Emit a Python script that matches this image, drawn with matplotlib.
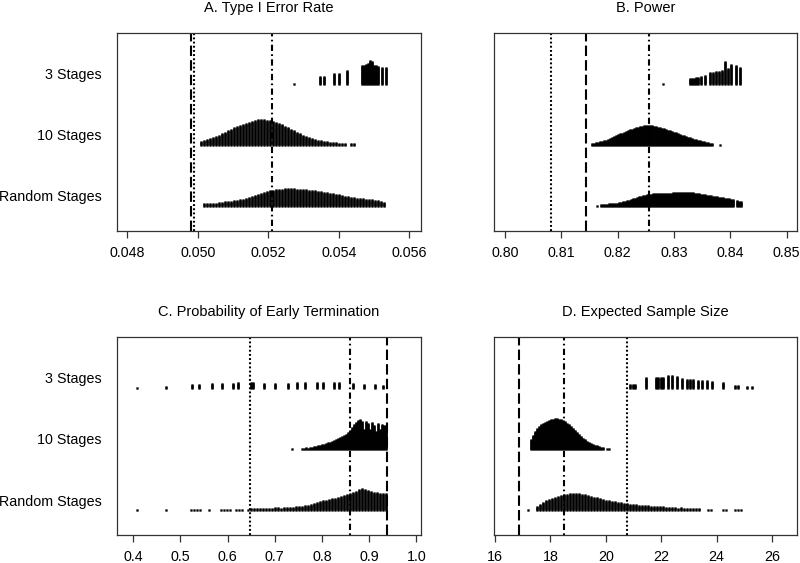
import numpy as np
import matplotlib.pyplot as plt

plt.rcParams['font.family'] = ['Liberation Sans', 'DejaVu Sans']
plt.rcParams['font.size'] = 10.3

# ============================================
# Data (stacked strip charts, value -> stack count)
# ============================================

groups = ["Random Stages", "10 Stages", "3 Stages"]

# A. Type I Error Rate
a3_vals = [0.05273, 0.05347, 0.05358, 0.05386, 0.05401, 0.05423, 0.05466, 0.05472,
           0.05477, 0.05483, 0.05489, 0.05494, 0.05500, 0.05506, 0.05511, 0.05523, 0.05534]
a3_counts = [1, 8, 8, 11, 11, 14, 19, 19, 20, 21, 24, 23, 19, 19, 18, 17, 17]
a10_start, a10_width = 0.05009, 0.000085
a10_counts = [4, 5, 6, 7, 8, 9, 10, 12, 13, 15, 16, 18, 19, 20, 21, 22, 23, 24, 25, 26,
              26, 26, 25, 25, 24, 23, 22, 21, 19, 18, 16, 15, 13, 12, 10, 9, 8, 7, 6, 5,
              5, 4, 4, 3, 3, 3, 2, 2, 2, 0, 2, 2]
arnd_start, arnd_width = 0.050176, 0.000085
arnd_counts = [3, 3, 3, 3, 3, 4, 4, 5, 5, 5, 6, 6, 7, 7, 8, 9, 10, 11, 12, 13,
               14, 15, 16, 16, 17, 17, 17, 18, 18, 18, 18, 17, 17, 17, 17, 16, 16, 16, 15, 15,
               14, 14, 13, 13, 12, 12, 11, 10, 10, 9, 9, 8, 8, 8, 7, 7, 7, 6, 6, 5, 4]
a_lines = [0.04980, 0.04990, 0.05210]
a_styles = ["longdash", "dotted", "dotdash"]
a_ticks = [0.048, 0.050, 0.052, 0.054, 0.056]
a_xlim = (0.047699, 0.056323)

# B. Power
b3_vals = [0.82796, 0.83284, 0.83319, 0.83355, 0.83390, 0.83426, 0.83479, 0.83550, 0.83639,
           0.83692, 0.83745, 0.83798, 0.83852, 0.83905, 0.83958, 0.84011, 0.84100, 0.84171]
b3_counts = [1, 6, 6, 6, 7, 7, 8, 9, 12, 12, 13, 13, 14, 23, 16, 20, 19, 17]
b10_start, b10_width = 0.815442, 0.000355
b10_counts = [2, 2, 3, 3, 4, 4, 5, 5, 6, 7, 8, 9, 10, 11, 12, 12, 13, 14, 15, 16,
              16, 17, 18, 18, 19, 19, 20, 20, 20, 20, 20, 19, 19, 18, 18, 17, 17, 16, 15, 15,
              14, 13, 13, 12, 11, 10, 10, 9, 8, 8, 7, 6, 6, 5, 5, 4, 4, 3, 3, 2,
              2, 0, 0, 0, 1]
brnd_start, brnd_width = 0.816330, 0.000355
brnd_counts = [1, 0, 2, 2, 2, 2, 3, 3, 3, 3, 3, 4, 4, 5, 5, 6, 6, 7, 8, 8,
               9, 10, 10, 11, 11, 12, 12, 12, 13, 13, 13, 13, 13, 13, 13, 13, 13, 13, 14, 14,
               14, 14, 14, 14, 14, 14, 14, 14, 14, 13, 13, 13, 12, 12, 12, 11, 11, 11, 10, 10,
               10, 9, 9, 9, 8, 8, 8, 7, 7, 0, 6, 5, 5]
b_lines = [0.8082, 0.8144, 0.8256]
b_styles = ["dotted", "longdash", "dotdash"]
b_ticks = [0.80, 0.81, 0.82, 0.83, 0.84, 0.85]
b_xlim = (0.798048, 0.851829)

# C. Probability of Early Termination
c3_vals = [0.4085, 0.4687, 0.5251, 0.5399, 0.5675, 0.5874, 0.6120, 0.6226, 0.6495, 0.6530,
           0.6777, 0.7004, 0.7286, 0.7477, 0.7640, 0.7888, 0.8028, 0.8261, 0.8367, 0.8651,
           0.8891, 0.9124, 0.9300]
c3_counts = [1, 2, 4, 4, 5, 5, 5, 6, 6, 6, 5, 5, 5, 6, 6, 6, 6, 6, 6, 5, 4, 4, 3]
c10_start, c10_width = 0.73644, 0.00424
c10_counts = [1, 0, 0, 0, 0, 1, 1, 2, 1, 2, 2, 3, 3, 4, 4, 5, 5, 6, 7, 7,
              8, 9, 10, 11, 12, 13, 14, 15, 17, 19, 22, 25, 27, 29, 30, 28, 20, 28, 26, 20,
              27, 24, 18, 26, 20, 25, 24, 24]
crnd_tail = [0.4075, 0.4687]
crnd_start, crnd_width = 0.52232, 0.00636
crnd_counts = [1, 1, 1, 1, 0, 0, 1, 0, 0, 0, 1, 1, 1, 1, 0, 1, 1, 1, 0, 1,
               2, 2, 2, 2, 2, 2, 2, 2, 3, 3, 2, 3, 3, 3, 3, 4, 4, 4, 5, 5,
               6, 7, 8, 9, 10, 10, 11, 12, 12, 13, 14, 15, 16, 17, 18, 19, 21, 22, 21, 20,
               19, 18, 18, 17, 17, 17]
c_lines = [0.6474, 0.8594, 0.9370]
c_styles = ["dotted", "dotdash", "longdash"]
c_ticks = [0.4, 0.5, 0.6, 0.7, 0.8, 0.9, 1.0]
c_xlim = (0.36481, 1.00929)

# D. Expected Sample Size
d3_vals = [20.874, 20.971, 21.066, 21.451, 21.812, 21.896, 21.982, 22.076, 22.234, 22.379,
           22.559, 22.740, 22.921, 23.040, 23.159, 23.340, 23.462, 23.643, 23.823, 24.220,
           24.664, 24.783, 25.087, 25.267]
d3_counts = [4, 4, 4, 11, 11, 11, 11, 11, 13, 13, 12, 10, 9, 9, 9, 8, 8, 8, 7, 6, 3, 3, 2, 2]
d10_start, d10_width = 17.300, 0.0722
d10_counts = [10, 14, 18, 21, 23, 25, 26, 27, 28, 29, 30, 30, 31, 31, 30, 30, 29, 28, 26, 25,
              23, 21, 19, 17, 15, 13, 11, 10, 8, 7, 6, 5, 4, 4, 3, 2, 2, 0, 1, 1]
drnd_tail = [17.20]
drnd_start, drnd_width = 17.516, 0.1083
drnd_counts = [4, 6, 8, 10, 11, 12, 13, 14, 15, 16, 16, 17, 17, 17, 17, 16, 16, 15, 14, 13,
               13, 12, 11, 10, 10, 9, 9, 8, 8, 7, 7, 6, 6, 6, 5, 5, 5, 5, 4, 4,
               4, 4, 4, 3, 3, 3, 3, 2, 3, 2, 2, 2, 2, 2, 2, 0, 0, 1, 1, 0,
               0, 0, 1, 1, 0, 0, 1, 1, 1]
d_lines = [16.866, 18.50, 20.77]
d_styles = ["longdash", "dotdash", "dotted"]
d_ticks = [16, 18, 20, 22, 24, 26]
d_xlim = (15.964, 26.903)

# ============================================
# Helpers
# ============================================

dash_patterns = {
    "longdash": (5.0, 2.0),
    "dotted": (0.9, 1.1),
    "dotdash": (0.8, 1.6, 3.0, 1.6),
}

step = 1 / 61.0      # one stacked point ~ 1 px
base_off = 0.17      # stacks start a little below the group label


def bins(start, width, counts):
    return [start + i * width for i in range(len(counts))]


def stack(ax, xs, ns, pos):
    px, py = [], []
    for x, n in zip(xs, ns):
        for k in range(n):
            px.append(x)
            py.append(pos - base_off + k * step)
    ax.plot(px, py, 's', ms=1.3, mew=0.3, mec='black', color='black')


def setup(ax, title, lines, styles, ticks, xlim, fmt, show_labels):
    for v, s in zip(lines, styles):
        ax.axvline(v, color='black', lw=1.5, dashes=dash_patterns[s])
    ax.set_xlim(*xlim)
    ax.set_ylim(0.426, 3.667)
    ax.set_xticks(ticks)
    ax.set_xticklabels([fmt.format(t) for t in ticks])
    ax.set_yticks([1, 2, 3])
    if show_labels:
        ax.set_yticklabels(groups)
    else:
        ax.set_yticklabels([])
    ax.tick_params(axis='y', length=0, pad=10.8)
    ax.tick_params(axis='x', length=5, width=0.9, color='#333333', pad=6)
    for sp in ax.spines.values():
        sp.set_color('#333333')
        sp.set_linewidth(0.9)
    ax.set_title(title, fontsize=10.5, pad=15.5)


# ============================================
# Figure
# ============================================

fig = plt.figure(figsize=(8, 5.63), dpi=100)

ax_a = fig.add_axes([0.1459, 0.5897, 0.38, 0.3512])
ax_b = fig.add_axes([0.6175, 0.5897, 0.37875, 0.3512])
ax_c = fig.add_axes([0.1459, 0.0497, 0.38, 0.3512])
ax_d = fig.add_axes([0.6175, 0.0497, 0.37875, 0.3512])

# A
stack(ax_a, a3_vals, a3_counts, 3)
stack(ax_a, bins(a10_start, a10_width, a10_counts), a10_counts, 2)
stack(ax_a, bins(arnd_start, arnd_width, arnd_counts), arnd_counts, 1)
setup(ax_a, "A. Type I Error Rate", a_lines, a_styles, a_ticks, a_xlim, "{:.3f}", True)

# B
stack(ax_b, b3_vals, b3_counts, 3)
stack(ax_b, bins(b10_start, b10_width, b10_counts), b10_counts, 2)
stack(ax_b, bins(brnd_start, brnd_width, brnd_counts), brnd_counts, 1)
setup(ax_b, "B. Power", b_lines, b_styles, b_ticks, b_xlim, "{:.2f}", False)

# C
stack(ax_c, c3_vals, c3_counts, 3)
stack(ax_c, bins(c10_start, c10_width, c10_counts), c10_counts, 2)
stack(ax_c, crnd_tail, [1] * len(crnd_tail), 1)
stack(ax_c, bins(crnd_start, crnd_width, crnd_counts), crnd_counts, 1)
setup(ax_c, "C. Probability of Early Termination", c_lines, c_styles, c_ticks, c_xlim, "{:.1f}", True)

# D
stack(ax_d, d3_vals, d3_counts, 3)
stack(ax_d, bins(d10_start, d10_width, d10_counts), d10_counts, 2)
stack(ax_d, drnd_tail, [1] * len(drnd_tail), 1)
stack(ax_d, bins(drnd_start, drnd_width, drnd_counts), drnd_counts, 1)
setup(ax_d, "D. Expected Sample Size", d_lines, d_styles, d_ticks, d_xlim, "{:d}", False)

fig.savefig("out.png", dpi=100)
